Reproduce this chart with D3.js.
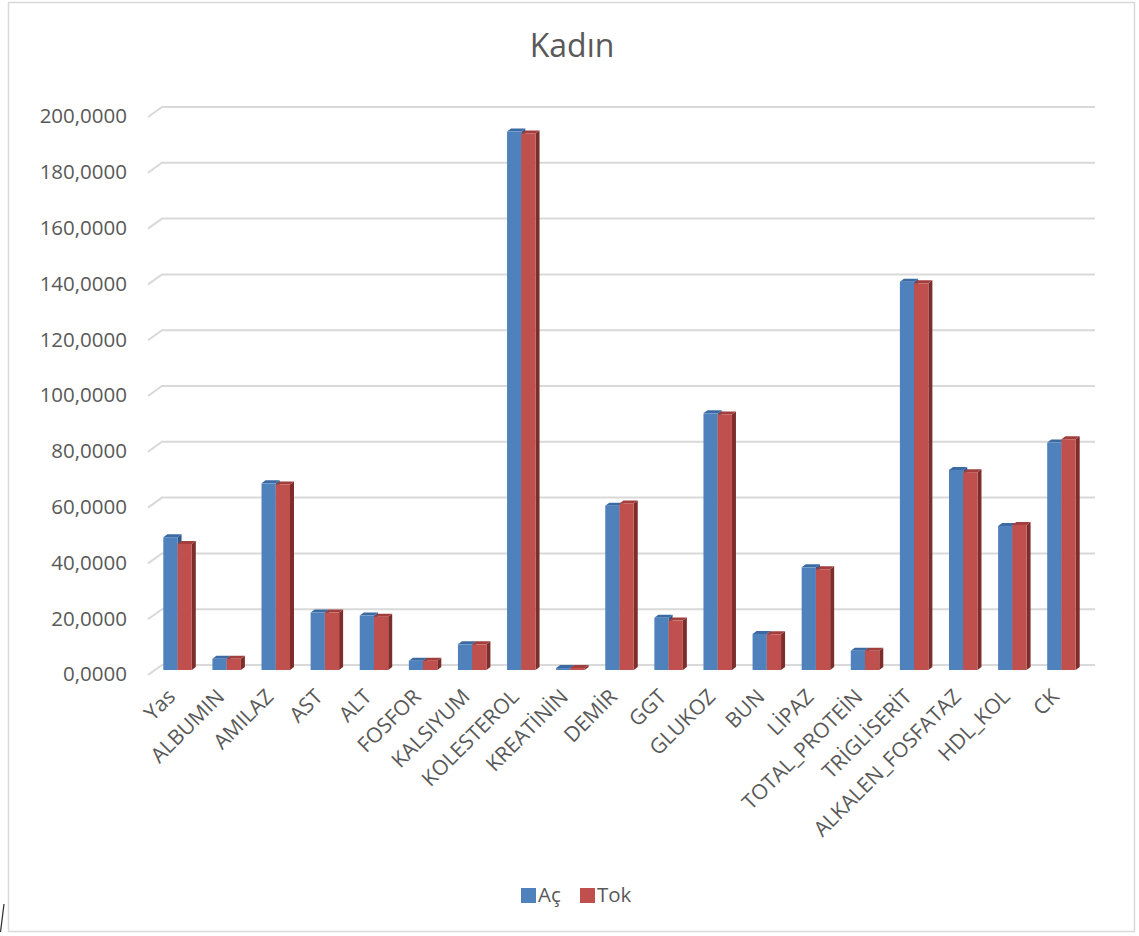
<!DOCTYPE html>
<html>
<head>
<meta charset="utf-8">
<script src="https://cdn.jsdelivr.net/npm/d3@7"></script>
<style>
  html, body { margin: 0; padding: 0; background: #ffffff; }
  svg { display: block; }
  text { font-family: "Open Sans", "Noto Sans", sans-serif; fill: #595959; }
</style>
</head>
<body>
<svg id="chart" width="1139" height="936"></svg>
<script>
// Test names (x categories)
const categories = ["Yas", "ALBUMIN", "AMILAZ", "AST", "ALT", "FOSFOR", "KALSIYUM",
  "KOLESTEROL", "KREATİNİN", "DEMİR", "GGT", "GLUKOZ", "BUN", "LİPAZ",
  "TOTAL_PROTEİN", "TRİGLİSERİT", "ALKALEN_FOSFATAZ", "HDL_KOL", "CK"];

// Mean values, fasting (Aç) and fed (Tok)
const acValues  = [47.6, 4.0, 66.9, 20.6, 19.5, 3.3, 9.2, 193.0, 0.7, 58.9,
  18.7, 92.0, 12.9, 36.8, 6.9, 139.2, 71.7, 51.6, 81.5];
const tokValues = [45.2, 4.0, 66.5, 20.6, 19.1, 3.3, 9.2, 192.3, 0.7, 59.7,
  17.7, 91.6, 12.8, 36.1, 6.9, 138.6, 70.9, 52.0, 82.7];

const seriesNames = ["Aç", "Tok"];
const yTicks = [0, 20, 40, 60, 80, 100, 120, 140, 160, 180, 200];

const colors = {
  "Aç":  { front: "#4F81BD", side: "#2F5A8C", top: "#3C6BA3" },
  "Tok": { front: "#C0504D", side: "#7D2D2B", top: "#A23F3C" }
};

const svg = d3.select("#chart");

// chart frame
svg.append("rect")
  .attr("x", 8.5).attr("y", 2.5).attr("width", 1126).attr("height", 929)
  .attr("fill", "#ffffff").attr("stroke", "#D9D9D9").attr("stroke-width", 1.5);

// oblique projection: back wall offset from the front of the floor
const depthX = 14, depthY = -10;

// y scale on the back wall
const y = d3.scaleLinear().domain([0, 200]).range([665, 107]);
const barShift = 5;          // bars stand halfway into the depth
const barDepthX = 4, barDepthY = -3;

// x scale: category bands along the mid depth
const x0 = d3.scaleBand().domain(categories).range([153, 1086])
  .paddingInner(0.42).paddingOuter(0.21);
const x1 = d3.scaleBand().domain(seriesNames).range([0, x0.bandwidth()]);

// gridlines: short diagonal on the side wall, then across the back wall
const grid = svg.append("g");
yTicks.forEach(t => {
  const yy = y(t);
  grid.append("path")
    .attr("d", `M148,${yy - depthY} L${148 + depthX},${yy} L1095,${yy}`)
    .attr("fill", "none").attr("stroke", "#D9D9D9").attr("stroke-width", 2);
});

// y tick labels
const fmt = v => d3.format(".4f")(v).replace(".", ",");
svg.append("g").selectAll("text").data(yTicks).join("text")
  .attr("x", 127)
  .attr("y", d => y(d) - depthY + 1)
  .attr("text-anchor", "end")
  .attr("dominant-baseline", "middle")
  .style("font-size", "20.5px")
  .text(d => fmt(d));

// bars
const data = categories.map((c, i) => ({ cat: c, "Aç": acValues[i], "Tok": tokValues[i] }));
const bars = svg.append("g");
data.forEach(d => {
  seriesNames.forEach(s => {
    const c = colors[s];
    const xl = x0(d.cat) + x1(s);
    const w = x1.bandwidth();
    const yb = y(0) + barShift;
    const yt = y(d[s]) + barShift;
    const g = bars.append("g");
    // side face
    g.append("path")
      .attr("d", `M${xl + w},${yt} L${xl + w + barDepthX},${yt + barDepthY} L${xl + w + barDepthX},${yb + barDepthY} L${xl + w},${yb} Z`)
      .attr("fill", c.side);
    // top face
    g.append("path")
      .attr("d", `M${xl},${yt} L${xl + barDepthX},${yt + barDepthY} L${xl + w + barDepthX},${yt + barDepthY} L${xl + w},${yt} Z`)
      .attr("fill", c.top);
    // front face
    g.append("rect")
      .attr("x", xl).attr("y", yt).attr("width", w).attr("height", yb - yt)
      .attr("fill", c.front);
  });
});

// x category labels, rotated
svg.append("g").selectAll("text").data(categories).join("text")
  .attr("transform", d => `translate(${x0(d) + x0.bandwidth() / 2 - 1},${698}) rotate(-45)`)
  .attr("text-anchor", "end")
  .style("font-size", "21px")
  .text(d => d);

// title
svg.append("text")
  .attr("x", 572).attr("y", 57)
  .attr("text-anchor", "middle")
  .style("font-size", "32px")
  .text("Kadın");

// legend
const legend = svg.append("g");
const legendItems = [
  { name: "Aç", x: 521 },
  { name: "Tok", x: 580 }
];
legendItems.forEach(item => {
  legend.append("rect")
    .attr("x", item.x).attr("y", 888).attr("width", 15).attr("height", 15)
    .attr("fill", colors[item.name].front);
  legend.append("text")
    .attr("x", item.x + 17).attr("y", 902)
    .style("font-size", "20.5px")
    .text(item.name);
});

// stray mark at the lower-left corner
svg.append("line")
  .attr("x1", 0.5).attr("y1", 932).attr("x2", 4).attr("y2", 904)
  .attr("stroke", "#333333").attr("stroke-width", 1.2);
</script>
</body>
</html>
